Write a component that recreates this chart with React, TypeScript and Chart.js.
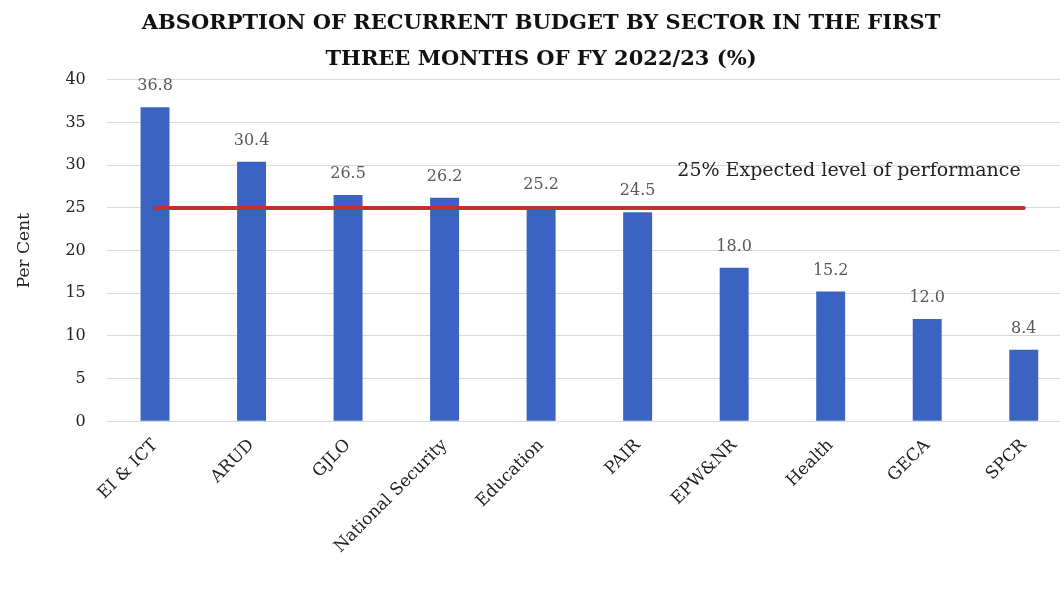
import React, { useEffect, useRef } from "react";
import { Chart, registerables } from "chart.js";

Chart.register(...registerables);

const categories = ["EI & ICT", "ARUD", "GJLO", "National Security", "Education", "PAIR", "EPW&NR", "Health", "GECA", "SPCR"];
const absorption = [36.8, 30.4, 26.5, 26.2, 25.2, 24.5, 18.0, 15.2, 12.0, 8.4];
const expectedLevel = [25, 25, 25, 25, 25, 25, 25, 25, 25, 25];
const titleLines = ["ABSORPTION OF RECURRENT BUDGET BY SECTOR IN THE FIRST", "THREE MONTHS OF FY 2022/23 (%)"];
const annotationText = "25% Expected level of performance";
const annotationValue = 29.3;

const FONT = "'DejaVu Serif', 'Liberation Serif', serif";

const labelPlugin = {
  id: "labels",
  afterDatasetsDraw(chart: any) {
    const ctx = chart.ctx;
    const meta = chart.getDatasetMeta(0);
    ctx.save();
    ctx.font = `16px ${FONT}`;
    ctx.fillStyle = "#595959";
    ctx.textAlign = "center";
    ctx.textBaseline = "middle";
    meta.data.forEach((bar: any, i: number) => {
      ctx.fillText(absorption[i].toFixed(1), bar.x, bar.y - 21);
    });
    const xs = chart.scales.x;
    const ys = chart.scales.y;
    ctx.font = `19px ${FONT}`;
    ctx.fillStyle = "#222222";
    ctx.textAlign = "right";
    ctx.textBaseline = "middle";
    ctx.fillText(annotationText, xs.getPixelForValue(categories.length - 1) - 3, ys.getPixelForValue(annotationValue));
    ctx.restore();
  },
};

export default function App() {
  const ref = useRef<HTMLCanvasElement>(null);
  useEffect(() => {
    const chart = new Chart(ref.current!, {
      type: "bar",
      data: {
        labels: categories,
        datasets: [
          {
            type: "bar",
            data: absorption,
            backgroundColor: "#3b64c2",
            barPercentage: 0.6,
            categoryPercentage: 0.5,
            order: 2,
          } as any,
          {
            type: "line",
            data: expectedLevel,
            borderColor: "#c0332a",
            borderWidth: 4,
            pointRadius: 0,
            borderCapStyle: "round",
            order: 1,
          } as any,
        ],
      },
      options: {
        animation: false,
        responsive: false,
        maintainAspectRatio: false,
        layout: { padding: { left: 10, right: 2, top: 0, bottom: 52 } },
        plugins: {
          legend: { display: false },
          tooltip: { enabled: false },
          title: {
            display: true,
            text: titleLines,
            color: "#111111",
            font: { family: FONT, size: 21, weight: "bold", lineHeight: 1.71 },
            padding: { top: 6, bottom: 2 },
          },
        },
        scales: {
          x: {
            grid: { display: false },
            border: { display: false },
            ticks: {
              color: "#222222",
              font: { family: FONT, size: 17 },
              minRotation: 45,
              maxRotation: 45,
              padding: 6,
            },
          },
          y: {
            min: 0,
            max: 40,
            ticks: { stepSize: 5, color: "#222222", font: { family: FONT, size: 16 }, padding: 21 },
            grid: { color: "#d9d9d9", drawTicks: false },
            border: { display: false },
            title: { display: true, text: "Per Cent", color: "#222222", font: { family: FONT, size: 17 }, padding: { bottom: 10 } },
          },
        },
      },
      plugins: [labelPlugin],
    });
    return () => chart.destroy();
  }, []);
  return (
    <div style={{ position: "absolute", left: 0, top: 0, width: 1060, height: 615, overflow: "hidden", background: "#fff" }}>
      <canvas ref={ref} width={1074} height={615} style={{ display: "block" }} />
    </div>
  );
}
